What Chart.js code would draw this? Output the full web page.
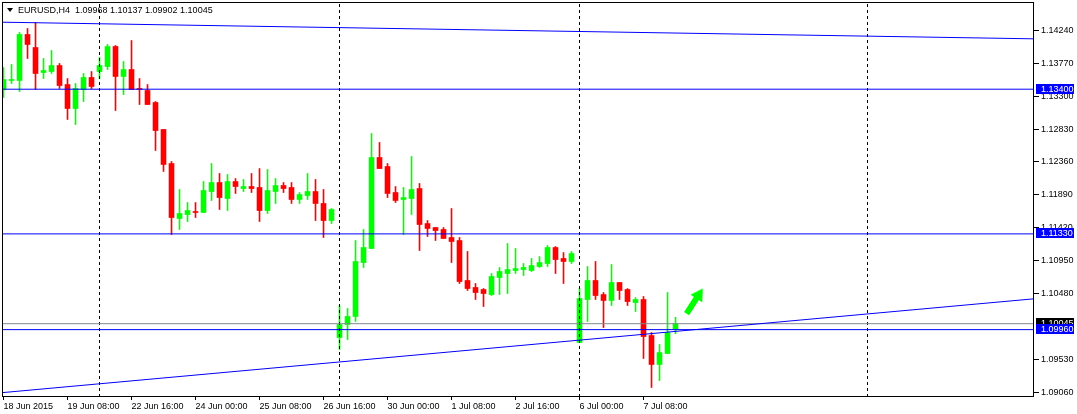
<!DOCTYPE html>
<html lang="en">
<head>
<meta charset="UTF-8" />
<title>EURUSD,H4</title>
<script src="https://cdn.jsdelivr.net/npm/chart.js"></script>
<style>
  body { margin: 0; background: #fff; }
  #wrap { position: relative; width: 1077px; height: 414px; }
  #caption {
    position: absolute; left: 7px; top: 5px;
    font: 9px "Liberation Sans", Arial, sans-serif; line-height: 11px;
    color: #000; white-space: pre;
  }
  #caption .tri {
    display: inline-block; width: 0; height: 0; margin-right: 5px; vertical-align: 1px;
    border-left: 3px solid transparent; border-right: 3px solid transparent; border-top: 4px solid #000;
  }
</style>
</head>
<body>
<div id="wrap">
  <canvas id="chart" width="1077" height="414"></canvas>
  <div id="caption"><span class="tri"></span>EURUSD,H4  1.09968 1.10137 1.09902 1.10045</div>
</div>
<script>
  // H4 candles, 18 Jun 2015 00:00 .. 8 Jul 2015 00:00 (one entry per bar)
  const opens = [
    1.13396, 1.13525, 1.13525, 1.14183, 1.13997, 1.13639, 1.13653, 1.13739, 1.13467, 1.13124,
    1.13396, 1.13568, 1.13653, 1.13725, 1.14011, 1.13582, 1.13682, 1.13410, 1.13382, 1.13210,
    1.12824, 1.12337, 1.11550, 1.11607, 1.11650, 1.11636, 1.11936, 1.12065, 1.11836, 1.12079,
    1.11979, 1.12008, 1.11994, 1.11664, 1.11936, 1.12022, 1.11994, 1.11822, 1.11879, 1.11936,
    1.11765, 1.11521, 1.09847, 1.10033, 1.10148, 1.10920, 1.11121, 1.12423, 1.12294, 1.11922,
    1.11822, 1.11836, 1.11979, 1.11478, 1.11421, 1.11393, 1.11278, 1.11235, 1.10663, 1.10563,
    1.10534, 1.10462, 1.10706, 1.10763, 1.10806, 1.10820, 1.10806, 1.10863, 1.10906, 1.11135,
    1.10978, 1.10935, 1.09776, 1.10391, 1.10663, 1.10462, 1.10377, 1.10634, 1.10534, 1.10348,
    1.10391, 1.09876, 1.09461, 1.09618, 1.09968
  ];
  const highs = [
    1.13711, 1.13754, 1.14212, 1.14269, 1.14355, 1.13840, 1.13954, 1.13768, 1.13553, 1.13482,
    1.13625, 1.13653, 1.13854, 1.14040, 1.14026, 1.13797, 1.14097, 1.13553, 1.13467, 1.13224,
    1.12824, 1.12366, 1.11965, 1.11779, 1.11779, 1.12079, 1.12337, 1.12194, 1.12180, 1.12122,
    1.12108, 1.12194, 1.12265, 1.12251, 1.12122, 1.12065, 1.12065, 1.11922, 1.12194, 1.12108,
    1.11965, 1.11693, 1.10305, 1.10262, 1.11235, 1.11393, 1.12766, 1.12638, 1.12337, 1.12008,
    1.11994, 1.12437, 1.12051, 1.11521, 1.11421, 1.11421, 1.11693, 1.11278, 1.11078, 1.10620,
    1.10548, 1.10763, 1.10849, 1.11192, 1.11121, 1.10906, 1.10978, 1.11006, 1.11164, 1.11149,
    1.11063, 1.11078, 1.10548, 1.10863, 1.10935, 1.10491, 1.10892, 1.10634, 1.10548, 1.10419,
    1.10434, 1.09919, 1.09747, 1.10491, 1.10137
  ];
  const lows = [
    1.13281, 1.13482, 1.13367, 1.13840, 1.13396, 1.13553, 1.13625, 1.13410, 1.12967, 1.12895,
    1.13224, 1.13410, 1.13553, 1.13682, 1.13095, 1.13324, 1.13396, 1.13181, 1.13181, 1.12523,
    1.12223, 1.11321, 1.11393, 1.11507, 1.11564, 1.11636, 1.11808, 1.11679, 1.11664, 1.11908,
    1.11936, 1.11922, 1.11507, 1.11622, 1.11765, 1.11922, 1.11765, 1.11765, 1.11822, 1.11521,
    1.11278, 1.11478, 1.09675, 1.09818, 1.10076, 1.10849, 1.11121, 1.12265, 1.11850, 1.11779,
    1.11321, 1.11607, 1.11092, 1.11292, 1.11235, 1.11264, 1.10920, 1.10620, 1.10520, 1.10391,
    1.10291, 1.10448, 1.10462, 1.10477, 1.10763, 1.10734, 1.10792, 1.10849, 1.10863, 1.10763,
    1.10620, 1.10906, 1.09776, 1.10076, 1.10391, 1.09990, 1.10305, 1.10391, 1.10305, 1.10219,
    1.09547, 1.09132, 1.09232, 1.09618, 1.09902
  ];
  const closes = [
    1.13539, 1.13539, 1.14183, 1.14040, 1.13625, 1.13668, 1.13739, 1.13453, 1.13124, 1.13410,
    1.13568, 1.13439, 1.13739, 1.14011, 1.13582, 1.13682, 1.13396, 1.13396, 1.13181, 1.12809,
    1.12323, 1.11564, 1.11622, 1.11664, 1.11636, 1.11951, 1.12065, 1.11850, 1.12079, 1.12008,
    1.12008, 1.11979, 1.11664, 1.11951, 1.12022, 1.11979, 1.11822, 1.11893, 1.11936, 1.11765,
    1.11521, 1.11679, 1.10033, 1.10148, 1.10935, 1.11135, 1.12423, 1.12265, 1.11908, 1.11808,
    1.11850, 1.11965, 1.11464, 1.11407, 1.11378, 1.11264, 1.11221, 1.10648, 1.10548, 1.10491,
    1.10477, 1.10720, 1.10792, 1.10820, 1.10834, 1.10849, 1.10877, 1.10920, 1.11135, 1.10963,
    1.10935, 1.11049, 1.10405, 1.10663, 1.10448, 1.10377, 1.10634, 1.10520, 1.10362, 1.10391,
    1.09861, 1.09461, 1.09632, 1.09919, 1.10045
  ];

  // axis labels
  const xTickBars = [0, 8, 16, 24, 32, 40, 48, 56, 64, 72, 80];
  const xTickLabels = ['18 Jun 2015', '19 Jun 08:00', '22 Jun 16:00', '24 Jun 00:00', '25 Jun 08:00',
    '26 Jun 16:00', '30 Jun 00:00', '1 Jul 08:00', '2 Jul 16:00', '6 Jul 00:00', '7 Jul 08:00'];
  const yTickValues = [1.09060, 1.09530, 1.10480, 1.10950, 1.11420, 1.11890, 1.12360,
    1.12830, 1.13300, 1.13770, 1.14240];

  // drawn objects
  const levelPrices = [1.13400, 1.11330, 1.09960];
  const bidPrice = 1.10045;
  const separatorBars = [12, 42, 72, 108];
  const topTrend = [[-0.1875, 1.14359], [128.8125, 1.14121]];
  const lowTrend = [[-0.1875, 1.09058], [128.8125, 1.10401]];
  const arrowAt = [86.4, 1.10369];

  const X_MIN = -0.1875, X_MAX = 128.8125;
  const Y_MIN = 1.08996, Y_MAX = 1.14648;
  const UP = '#00ff00', DOWN = '#ff0000', BLUE = '#0000ff';
  const FONT = { family: '"Liberation Sans", Arial, sans-serif', size: 9 };

  const barColors = opens.map((o, i) => closes[i] >= o ? UP : DOWN);

  function lineSet(points, color, dash) {
    return {
      type: 'line',
      data: points.map(p => ({ x: p[0], y: p[1] })),
      borderColor: color,
      borderWidth: 1,
      borderDash: dash || [],
      pointRadius: 0,
      fill: false,
      tension: 0
    };
  }

  function arrowImage() {
    const c = document.createElement('canvas');
    c.width = 14; c.height = 30;
    const g = c.getContext('2d');
    g.fillStyle = UP;
    g.beginPath();
    g.moveTo(7, 0); g.lineTo(14, 12); g.lineTo(10, 12); g.lineTo(10, 30);
    g.lineTo(4, 30); g.lineTo(4, 12); g.lineTo(0, 12);
    g.closePath();
    g.fill();
    return c;
  }

  const datasets = [
    {
      type: 'scatter',
      data: [{ x: arrowAt[0], y: arrowAt[1] }],
      pointStyle: arrowImage(),
      pointRadius: 10,
      rotation: 33
    },
    ...levelPrices.map(v => lineSet([[X_MIN, v], [X_MAX, v]], BLUE)),
    lineSet(topTrend, BLUE),
    lineSet(lowTrend, BLUE),
    lineSet([[X_MIN, bidPrice], [X_MAX, bidPrice]], '#7f8891'),
    ...separatorBars.map(b => lineSet([[b, Y_MIN], [b, Y_MAX]], '#000', [3, 3])),
    {
      // candle bodies
      data: opens.map((o, i) => ({ x: i, y: [o, closes[i]] })),
      backgroundColor: barColors,
      borderWidth: 0,
      barThickness: 5,
      minBarLength: 1,
      grouped: false
    },
    {
      // wicks
      data: opens.map((o, i) => ({ x: i, y: [lows[i], highs[i]] })),
      backgroundColor: barColors,
      borderWidth: 0,
      barThickness: 1,
      minBarLength: 1,
      grouped: false
    }
  ];

  // frame around the plot + price tags on the right axis
  const extras = {
    id: 'extras',
    afterDatasetsDraw(chart) {
      const { ctx, chartArea: a } = chart;
      ctx.save();
      ctx.strokeStyle = '#000';
      ctx.lineWidth = 1;
      ctx.strokeRect(a.left + 0.5, a.top + 0.5, a.right - a.left - 1, a.bottom - a.top - 1);
      ctx.restore();
    },
    afterDraw(chart) {
      const { ctx, chartArea: a } = chart;
      const ys = chart.scales.y;
      ctx.save();
      ctx.font = '9px "Liberation Sans", Arial, sans-serif';
      ctx.textBaseline = 'middle';
      const tag = (v, bg) => {
        const py = Math.floor(ys.getPixelForValue(v));
        ctx.fillStyle = bg;
        ctx.fillRect(a.right + 2, py - 5, 38, 10);
        ctx.fillStyle = '#fff';
        ctx.fillText(v.toFixed(5), a.right + 7, py + 0.5);
      };
      tag(bidPrice, '#000');
      levelPrices.forEach(v => tag(v, BLUE));
      ctx.restore();
    }
  };

  new Chart(document.getElementById('chart'), {
    type: 'bar',
    data: { datasets },
    plugins: [extras],
    options: {
      responsive: false,
      animation: false,
      devicePixelRatio: 1,
      layout: { autoPadding: false, padding: { left: 2, top: 2, right: 0, bottom: 0 } },
      plugins: { legend: { display: false }, tooltip: { enabled: false } },
      scales: {
        x: {
          type: 'linear',
          min: X_MIN,
          max: X_MAX,
          offset: false,
          border: { display: false },
          grid: { drawOnChartArea: false, drawTicks: true, tickLength: 3, tickColor: '#000', offset: false },
          ticks: {
            autoSkip: false, maxRotation: 0, align: 'start', padding: 1,
            color: '#000', font: FONT,
            callback: v => xTickLabels[xTickBars.indexOf(v)]
          },
          afterBuildTicks: s => { s.ticks = xTickBars.map(v => ({ value: v })); },
          afterFit: s => { s.height = 17; s.paddingLeft = 0; s.paddingRight = 0; }
        },
        y: {
          position: 'right',
          min: Y_MIN,
          max: Y_MAX,
          border: { display: false },
          grid: { drawOnChartArea: false, drawTicks: true, tickLength: 5, tickColor: '#000' },
          ticks: {
            padding: 2, color: '#000', font: FONT,
            callback: v => v.toFixed(5)
          },
          afterBuildTicks: s => { s.ticks = yTickValues.map(v => ({ value: v })); },
          afterFit: s => { s.width = 43; s.paddingTop = 0; s.paddingBottom = 0; }
        }
      }
    }
  });
</script>
</body>
</html>
